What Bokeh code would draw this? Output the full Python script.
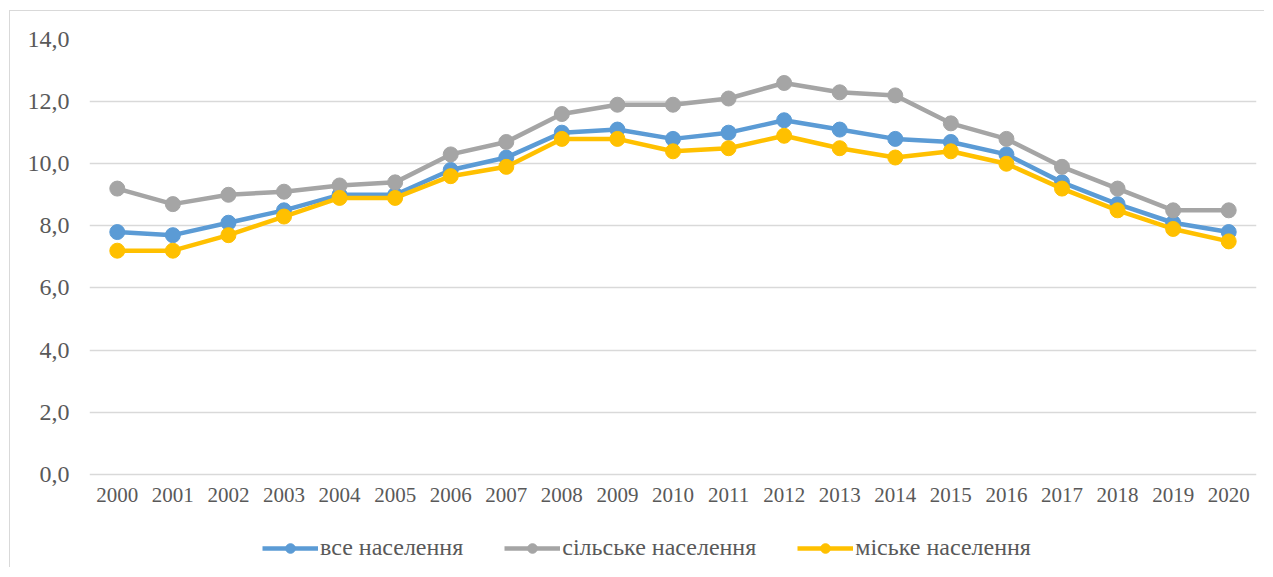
from bokeh.plotting import figure
from bokeh.models import FactorRange, Range1d, FixedTicker, Legend, LegendItem
from bokeh.embed import file_html
from bokeh.resources import INLINE

years = [str(y) for y in range(2000, 2021)]
all_pop = [7.8, 7.7, 8.1, 8.5, 9.0, 9.0, 9.8, 10.2, 11.0, 11.1, 10.8, 11.0, 11.4, 11.1, 10.8, 10.7, 10.3, 9.4, 8.7, 8.1, 7.8]
rural_pop = [9.2, 8.7, 9.0, 9.1, 9.3, 9.4, 10.3, 10.7, 11.6, 11.9, 11.9, 12.1, 12.6, 12.3, 12.2, 11.3, 10.8, 9.9, 9.2, 8.5, 8.5]
urban_pop = [7.2, 7.2, 7.7, 8.3, 8.9, 8.9, 9.6, 9.9, 10.8, 10.8, 10.4, 10.5, 10.9, 10.5, 10.2, 10.4, 10.0, 9.2, 8.5, 7.9, 7.5]
series_names = ["все населення", "сільське населення", "міське населення"]
y_ticks = [0, 2, 4, 6, 8, 10, 12, 14]
y_labels = {t: f"{t:.1f}".replace(".", ",") for t in y_ticks}

colors = ["#5B9BD5", "#A5A5A5", "#FFC000"]
FONT = "Liberation Serif"
TXT = "#595959"

p = figure(frame_width=1167, frame_height=528, x_range=FactorRange(*years), y_range=Range1d(-3.0, 14),
           output_backend="svg", toolbar_location=None,
           min_border_left=79, min_border_right=8, min_border_top=28, min_border_bottom=0)
p.x_range.range_padding = 0
p.outline_line_color = None
p.styles = {"border-left": "1px solid #d9d9d9", "border-top": "1px solid #d9d9d9",
            "margin-left": "9px", "margin-top": "10px"}

p.yaxis.ticker = FixedTicker(ticks=y_ticks)
p.yaxis.major_label_overrides = y_labels
p.xaxis.fixed_location = 0
for ax in (p.xaxis, p.yaxis):
    ax.axis_line_color = None
    ax.major_tick_line_color = None
    ax.minor_tick_line_color = None
    ax.major_tick_in = 0
    ax.major_tick_out = 0
    ax.major_label_text_font = FONT
    ax.major_label_text_color = TXT
p.yaxis.major_label_text_font_size = "24px"
p.xaxis.major_label_text_font_size = "21px"
p.yaxis.major_label_standoff = 20
p.xaxis.major_label_standoff = 14
p.xgrid.grid_line_color = None
p.ygrid.grid_line_color = "#d9d9d9"
p.ygrid.grid_line_width = 1.5

items = []
for name, vals, c in zip(series_names, [all_pop, rural_pop, urban_pop], colors):
    l = p.line(years, vals, line_color=c, line_width=4.5)
    s = p.scatter(years, vals, size=15, fill_color=c, line_color=c)
    items.append(LegendItem(label=name, renderers=[l, s]))

leg = Legend(items=items, orientation="horizontal", location=(173, 6),
             label_text_font=FONT, label_text_color=TXT, label_text_font_size="24px",
             glyph_width=56, glyph_height=24, label_standoff=2, spacing=41,
             border_line_color=None, background_fill_alpha=0, padding=0, margin=0)
p.add_layout(leg, "center")

open("out.html", "w").write(file_html(p, INLINE))
